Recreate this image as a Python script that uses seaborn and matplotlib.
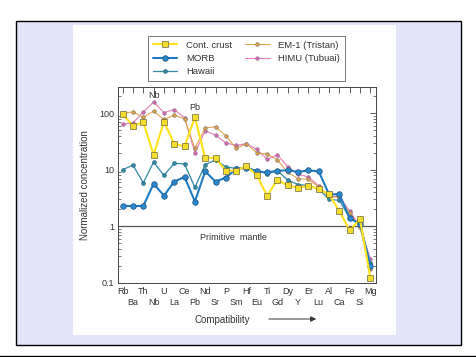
import numpy as np
import pandas as pd
import matplotlib
matplotlib.use('Agg')
import matplotlib.pyplot as plt
import seaborn as sns
from matplotlib.patches import Rectangle, FancyArrowPatch
from matplotlib.ticker import LogLocator, NullFormatter

sns.set_style('white')
plt.rcParams['font.family'] = ['Liberation Sans', 'DejaVu Sans']

# Elements, ordered by compatibility
elements = ['Rb', 'Ba', 'Th', 'Nb', 'U', 'La', 'Ce', 'Pb', 'Nd', 'Sr', 'P', 'Sm', 'Hf',
            'Eu', 'Ti', 'Gd', 'Dy', 'Y', 'Er', 'Lu', 'Al', 'Ca', 'Fe', 'Si', 'Mg']

# Primitive-mantle normalized concentrations
cont_crust = [97, 60, 70, 18.5, 71, 29, 26, 85, 16.3, 16.3, 9.6, 9.7, 11.8,
              8.0, 3.5, 6.7, 5.3, 4.8, 5.2, 4.6, 3.7, 1.87, 0.85, 1.35, 0.123]
morb = [2.3, 2.3, 2.3, 5.7, 3.5, 6.2, 7.5, 2.76, 9.4, 6.2, 7.3, 10.3, 11.0,
        9.4, 9.0, 9.6, 9.9, 9.2, 9.8, 9.4, 3.7, 3.7, 1.4, 1.11, 0.2]
hawaii = [10.1, 12.1, 5.9, 13.7, 8.0, 13.1, 12.7, 4.9, 12.4, 15.0, 11.3, 10.6, 11.0,
          9.6, 8.6, 9.6, 6.6, 5.5, 5.3, 4.6, 3.0, 2.9, 1.4, 1.07, 0.23]
em1 = [100, 106, 85, 109, 78, 93, 80, 24, 55, 58, 40, 24, 29,
       20, 19, 15, 9.0, 7.0, 6.8, 5.0, 3.3, 3.3, 1.7, 0.97, 0.176]
himu = [64, 68, 105, 159, 103, 116, 84, 20, 49, 41, 30, 27, 29,
        23, 15.5, 18.4, 11.4, 8.4, 7.5, 5.2, 3.4, 3.4, 1.85, 1.0, 0.27]

x = np.arange(len(elements))

fig = plt.figure(figsize=(4.76, 3.57), dpi=100)
fig.patch.set_facecolor('white')

W, H = 476.0, 357.0
def fx(px):
    return px / W
def fy(py):
    return 1 - py / H

# page frame and scanned-figure backdrop (behind the axes)
fig.add_artist(Rectangle((fx(16), fy(345)), fx(445), 324 / H, transform=fig.transFigure,
                         facecolor='#e4e4fa', edgecolor='black', lw=1.0, zorder=-3))
fig.add_artist(Rectangle((fx(73), fy(335)), fx(323), 310 / H, transform=fig.transFigure,
                         facecolor='white', edgecolor='none', zorder=-2))
fig.add_artist(plt.Line2D([0, 1], [fy(355.5), fy(355.5)], transform=fig.transFigure,
                          color='black', lw=1.0, zorder=-1))

ax = fig.add_axes([fx(118), fy(283), fx(258), 196 / H])
ax.set_facecolor('white')

styles = {
    'HIMU (Tubuai)': dict(data=himu, color='#e47cbc', marker='o', ms=2.6, lw=0.8,
                          mfc='#d66aae', mec='#8a6a8a', mew=0.4),
    'EM-1 (Tristan)': dict(data=em1, color='#e0a550', marker='o', ms=2.6, lw=0.8,
                           mfc='#d8a048', mec='#7a7060', mew=0.4),
    'Hawaii': dict(data=hawaii, color='#2f8aa2', marker='o', ms=2.8, lw=0.9,
                   mfc='#2f8aa2', mec='#25607a', mew=0.4),
    'MORB': dict(data=morb, color='#1f7cc4', marker='o', ms=4.0, lw=1.5,
                 mfc='#2a88cc', mec='#1a4f80', mew=0.5),
    'Cont. crust': dict(data=cont_crust, color='#ffe21a', marker='s', ms=4.2, lw=1.5,
                        mfc='#f3dc2a', mec='#6c6640', mew=0.5),
}

handles = {}
for name, st in styles.items():
    sns.lineplot(x=x, y=st['data'], ax=ax, color=st['color'], lw=st['lw'],
                 marker=st['marker'], markersize=st['ms'], markerfacecolor=st['mfc'],
                 markeredgecolor=st['mec'], markeredgewidth=st['mew'], label=name)
    handles[name] = ax.lines[-1]

ax.set_yscale('log')
ax.set_ylim(0.1, 292)
ax.set_xlim(-0.45, 24.55)

# primitive mantle reference
ax.axhline(1, color='#555555', lw=0.9, zorder=1)
ax.text(10.7, 0.64, 'Primitive  mantle', fontsize=6.5, ha='center', va='center', color='#333333')

ax.text(3, 205, 'Nb', fontsize=6.5, ha='center', va='center', color='#333333')
ax.text(7, 125, 'Pb', fontsize=6.5, ha='center', va='center', color='#333333')

ax.set_xticks(x)
ax.set_xticklabels([e if i % 2 == 0 else '\n' + e for i, e in enumerate(elements)],
                   fontsize=6.5, color='#333333', linespacing=1.3)
ax.set_yticks([0.1, 1, 10, 100])
ax.set_yticklabels(['0.1', '1', '10', '100'], fontsize=6.5, color='#333333')
ax.yaxis.set_minor_locator(LogLocator(base=10, subs=np.arange(2, 10)))
ax.yaxis.set_minor_formatter(NullFormatter())
ax.tick_params(axis='both', which='major', direction='in', length=4, width=0.6,
               top=True, right=True, color='#444444', pad=3)
ax.tick_params(axis='y', which='minor', direction='in', length=2, width=0.5,
               left=True, right=True, color='#444444')
for sp in ax.spines.values():
    sp.set_color('#444444')
    sp.set_linewidth(0.7)

ax.set_ylabel('Normalized concentration', fontsize=7, color='#333333', labelpad=6)
ax.set_xlabel('')
fig.text(fx(222), fy(320), 'Compatibility', fontsize=7, ha='center', va='center', color='#333333')
fig.add_artist(FancyArrowPatch((fx(266), fy(319)), (fx(319), fy(319)),
                               transform=fig.transFigure, arrowstyle='-|>',
                               mutation_scale=8, color='#333333', lw=0.7))

ax.get_legend().remove()
order = ['Cont. crust', 'MORB', 'Hawaii', 'EM-1 (Tristan)', 'HIMU (Tubuai)']
leg = fig.legend([handles[n] for n in order], order, ncol=2, fontsize=6.8,
                 loc='upper left', bbox_to_anchor=(fx(148), fy(36)), borderaxespad=0,
                 frameon=True, fancybox=False, edgecolor='#555555',
                 handlelength=2.6, columnspacing=1.4, labelspacing=0.45,
                 borderpad=0.5, handletextpad=0.9)
leg.get_frame().set_linewidth(0.7)
for t in leg.get_texts():
    t.set_color('#333333')

fig.savefig('out.png', dpi=100)
